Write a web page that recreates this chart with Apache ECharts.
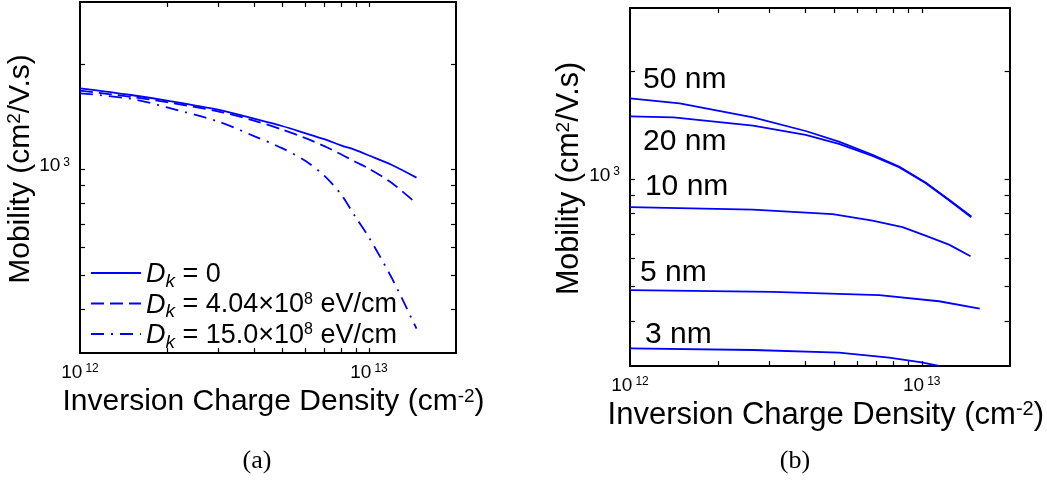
<!DOCTYPE html>
<html><head><meta charset="utf-8">
<script src="https://cdn.jsdelivr.net/npm/echarts@6/dist/echarts.min.js"></script>
<style>html,body{margin:0;padding:0;background:#fff}#c{width:1047px;height:482px}</style>
</head><body><div id="c"></div>
<script>
// ---------------- data ----------------
// (a) mobility vs inversion charge density for three D_k values
const leftX    = [1e12, 1.5e12, 2e12, 3e12, 4e12, 5e12, 6e12, 7e12, 8e12, 9e12, 1e13, 1.2e13, 1.46e13];
const mobDk0   = [1702, 1630, 1571, 1480, 1395, 1330, 1270, 1220, 1172, 1135, 1096, 1030, 948];
const mobDk404 = [1677, 1610, 1555, 1465, 1378, 1300, 1230, 1165, 1105, 1050, 1005, 915, 800];
const mobDk150 = [1648, 1590, 1503, 1370, 1245, 1150, 1060, 960, 850, 730, 640, 490, 352];
const legendNames = ['Dk = 0', 'Dk = 4.04e8 eV/cm', 'Dk = 15.0e8 eV/cm'];
const legendTexts = [
  '{it|D}{sub|k}{t| = 0}',
  '{it|D}{sub|k}{t| = 4.04\u00d710}{sup|8}{t| eV/cm}',
  '{it|D}{sub|k}{t| = 15.0\u00d710}{sup|8}{t| eV/cm}'
];

// (b) mobility vs inversion charge density for several thicknesses
const x50  = [1e12, 1.48e12, 2.64e12, 4e12, 5.2e12, 6.78e12, 8.36e12, 1.03e13, 1.24e13, 1.478e13];
const mob50 = [1678, 1625, 1485, 1360, 1270, 1166, 1082, 977, 874, 785];
const x20  = [1e12, 1.41e12, 2.64e12, 4e12, 5.2e12, 6.78e12, 8.36e12, 1.03e13, 1.24e13, 1.478e13];
const mob20 = [1495, 1485, 1408, 1326, 1252, 1158, 1077, 973, 871, 781];
const x10  = [1e12, 2.64e12, 4.95e12, 6.78e12, 8.59e12, 1.03e13, 1.24e13, 1.47e13];
const mob10 = [834, 820, 797, 764, 733, 694, 655, 608];
const x5   = [1e12, 3.09e12, 7.15e12, 1.146e13, 1.58e13];
const mob5 = [489, 483, 473, 455, 434];
const x3   = [1e12, 2.64e12, 5.2e12, 7.73e12, 1e13, 1.146e13];
const mob3 = [336, 332.5, 327, 316.5, 307, 300];

const thickLabels = ['50 nm', '20 nm', '10 nm', '5 nm', '3 nm'];
const thickLabelX = [1.108e12, 1.108e12, 1.125e12, 1.082e12, 1.125e12];
const thickLabelY = [1887, 1268, 950, 547, 368];

// axes
const xRange = [1e12, 2e13];
const yRange = [300, 3000];
const xTickValues = [2e12, 3e12, 4e12, 5e12, 6e12, 7e12, 8e12, 9e12, 1e13];
const yTickValues = [400, 500, 600, 700, 800, 900, 1000, 2000];
const xLabelValues = [1e12, 1e13];
const xLabelExps = ['12', '13'];
const yLabelValues = [1000];
const yLabelExps = ['3'];
const xTitle = '{t|Inversion Charge Density (cm}{s|-2}{t|)}';
const yTitle = '{t|Mobility (cm}{s|2}{t|/V.s)}';

// ---------------- chart ----------------
const FONT = '"Liberation Sans", Arial, sans-serif';
const BLUE = '#0000ff';
const tickRich = {
  b: {fontSize: 19, lineHeight: 26, verticalAlign: 'top', fontFamily: FONT, color: '#000'},
  e: {fontSize: 12, lineHeight: 8, verticalAlign: 'top', padding: [0, 0, 0, 3], fontFamily: FONT, color: '#000'}
};
function titleRich(fs) {
  return {
    t: {fontSize: fs, lineHeight: 34, verticalAlign: 'top', fontFamily: FONT, color: '#000'},
    s: {fontSize: Math.round(fs * 0.63), lineHeight: 20, verticalAlign: 'top', fontFamily: FONT, color: '#000'}
  };
}
const axLine = {show: true, onZero: false, lineStyle: {color: '#000', width: 2}};

function xAxis(grid, pos, withLabel, nameGap, fs, padL) {
  const a = {
    type: 'log', logBase: 10, gridIndex: grid, position: pos, min: xRange[0], max: xRange[1],
    axisLine: axLine,
    axisTick: {show: true, inside: true, length: 5, customValues: xTickValues, lineStyle: {color: '#000', width: 1.2}},
    axisLabel: {show: withLabel, customValues: xLabelValues, margin: 10, color: '#000', fontSize: 19, fontFamily: FONT,
      formatter: v => '{b|10}{e|' + xLabelExps[xLabelValues.indexOf(v)] + '}', rich: tickRich},
    splitLine: {show: false}, minorTick: {show: false}
  };
  if (withLabel) {
    a.name = xTitle; a.nameLocation = 'middle'; a.nameGap = nameGap;
    a.nameTextStyle = {color: '#000', fontSize: fs, fontFamily: FONT, rich: titleRich(fs), padding: [0, 0, 0, padL]};
  }
  return a;
}
function yAxis(grid, pos, withLabel, fs) {
  const a = {
    type: 'log', logBase: 10, gridIndex: grid, position: pos, min: yRange[0], max: yRange[1],
    axisLine: axLine,
    axisTick: {show: true, inside: true, length: 5, customValues: yTickValues, lineStyle: {color: '#000', width: 1.2}},
    axisLabel: {show: withLabel, customValues: yLabelValues, margin: 10, color: '#000', fontSize: 19, fontFamily: FONT,
      formatter: v => '{b|10}{e|' + yLabelExps[yLabelValues.indexOf(v)] + '}', rich: tickRich},
    splitLine: {show: false}, minorTick: {show: false}
  };
  if (withLabel) {
    a.name = yTitle; a.nameLocation = 'middle'; a.nameGap = 39; a.nameRotate = 90;
    a.nameTextStyle = {color: '#000', fontSize: fs, fontFamily: FONT, rich: titleRich(fs), padding: [0, 0, 0, 17]};
  }
  return a;
}
function pairs(xs, ys) { return xs.map((x, i) => [x, ys[i]]); }
function line(name, xi, yi, data, type, smooth) {
  return {type: 'line', name: name, xAxisIndex: xi, yAxisIndex: yi, data: data,
    symbol: 'none', showSymbol: false, smooth: smooth, clip: true,
    lineStyle: {color: BLUE, width: 1.8, type: type, cap: 'butt'}, itemStyle: {color: BLUE},
    emphasis: {disabled: true}};
}

const chart = echarts.init(document.getElementById('c'), null, {renderer: 'canvas'});
chart.setOption({
  animation: false,
  backgroundColor: '#fff',
  textStyle: {fontFamily: FONT, color: '#000'},
  grid: [
    {left: 80, top: 2, width: 376, height: 351},
    {left: 630, top: 8, width: 381, height: 358}
  ],
  xAxis: [xAxis(0, 'bottom', true, 31, 30, 11), xAxis(0, 'top', false), xAxis(1, 'bottom', true, 25, 31, 12), xAxis(1, 'top', false)],
  yAxis: [yAxis(0, 'left', true, 30), yAxis(0, 'right', false), yAxis(1, 'left', true, 30.5), yAxis(1, 'right', false)],
  legend: {
    data: legendNames, orient: 'vertical', left: 90, top: 261, padding: 0,
    itemWidth: 50, itemHeight: 14, itemGap: 0.5, selectedMode: false,
    itemStyle: {opacity: 0},
    formatter: name => legendTexts[legendNames.indexOf(name)],
    textStyle: {color: '#000', fontSize: 27, fontFamily: FONT, rich: {
      it: {fontSize: 27, lineHeight: 24, verticalAlign: 'top', fontStyle: 'italic', fontFamily: FONT, color: '#000'},
      t: {fontSize: 27, lineHeight: 24, verticalAlign: 'top', fontFamily: FONT, color: '#000'},
      sub: {fontSize: 19, lineHeight: 16, verticalAlign: 'top', padding: [11, 0, 0, 0], fontStyle: 'italic', fontFamily: FONT, color: '#000'},
      sup: {fontSize: 16, lineHeight: 12, verticalAlign: 'top', fontFamily: FONT, color: '#000'}
    }}
  },
  graphic: [
    {type: 'text', x: 257, y: 461, style: {text: '(a)', font: '26px "Liberation Serif", serif', fill: '#000', align: 'center', verticalAlign: 'middle'}},
    {type: 'text', x: 795, y: 461, style: {text: '(b)', font: '26px "Liberation Serif", serif', fill: '#000', align: 'center', verticalAlign: 'middle'}}
  ],
  series: [
    line(legendNames[0], 0, 0, pairs(leftX, mobDk0), 'solid', 0.3),
    line(legendNames[1], 0, 0, pairs(leftX, mobDk404), [13, 6], 0.3),
    line(legendNames[2], 0, 0, pairs(leftX, mobDk150), [13, 7, 2, 7], 0.3),
    line('50 nm', 2, 2, pairs(x50, mob50), 'solid', false),
    line('20 nm', 2, 2, pairs(x20, mob20), 'solid', false),
    line('10 nm', 2, 2, pairs(x10, mob10), 'solid', false),
    line('5 nm', 2, 2, pairs(x5, mob5), 'solid', false),
    line('3 nm', 2, 2, pairs(x3, mob3), 'solid', false),
    {type: 'scatter', xAxisIndex: 2, yAxisIndex: 2, symbolSize: 0.01, silent: true, z: 5,
      itemStyle: {opacity: 1, color: '#000'},
      data: thickLabels.map((t, i) => ({name: t, value: [thickLabelX[i], thickLabelY[i]]})),
      label: {show: true, position: 'right', distance: 0, formatter: p => p.name, opacity: 1,
        textBorderWidth: 0, fontSize: 30, fontFamily: FONT, color: '#000'}}
  ]
});
</script></body></html>
